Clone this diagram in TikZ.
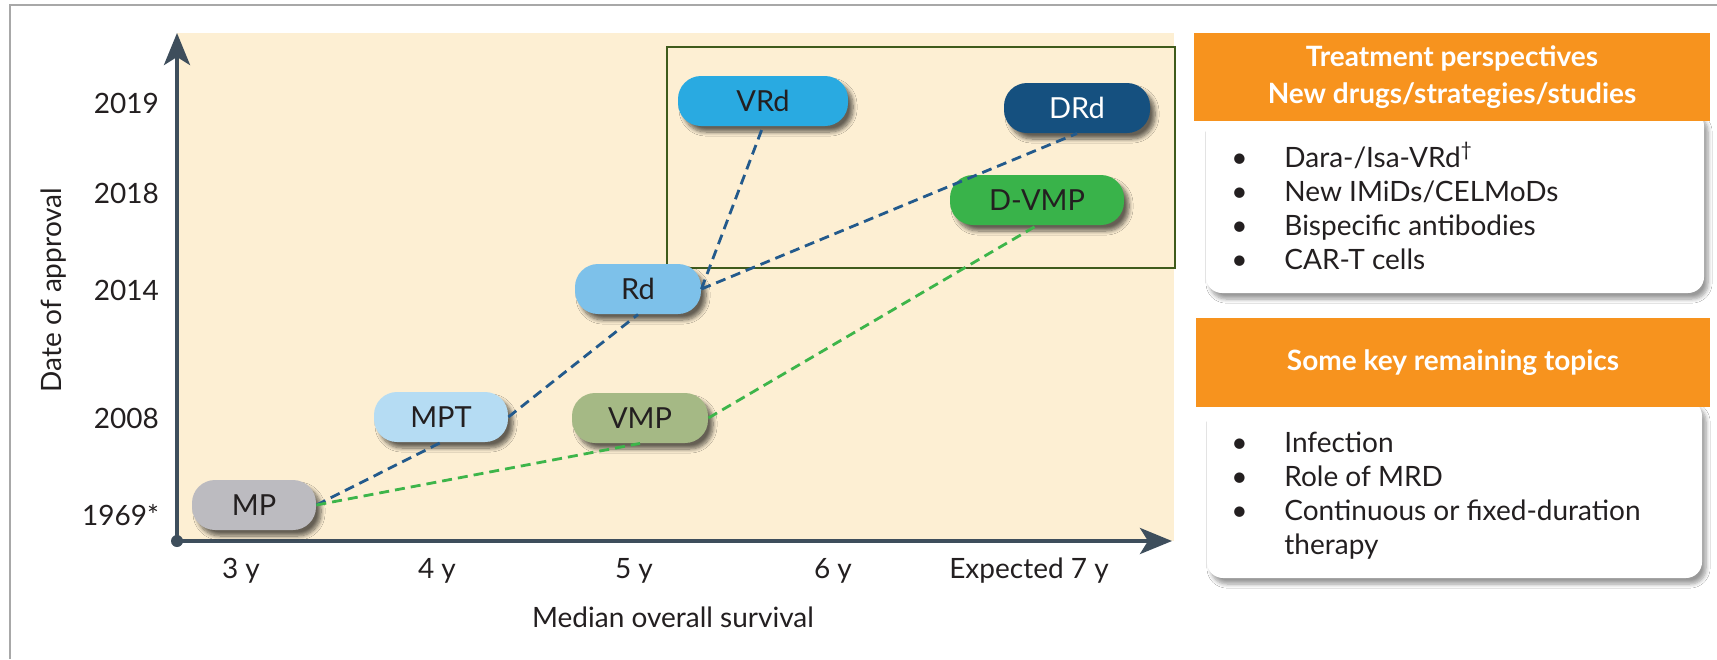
\documentclass[tikz,border=0pt]{standalone}
\usepackage{fontspec}
\setmainfont{Lato}
\usetikzlibrary{shapes.misc,arrows.meta,shadows.blur,positioning}

\definecolor{chartbg}{HTML}{FDEFD3}
\definecolor{axisgray}{HTML}{3E4E5C}
\definecolor{framegray}{HTML}{A8A8A8}
\definecolor{boxgreen}{HTML}{3F5B1C}
\definecolor{headorange}{HTML}{F7931E}
\definecolor{ink}{HTML}{231F20}
\definecolor{linkblue}{HTML}{235A8C}
\definecolor{linkgreen}{HTML}{3DB54A}
\definecolor{mpgray}{HTML}{BCBBC0}
\definecolor{mptblue}{HTML}{B5DCF3}
\definecolor{vmpgreen}{HTML}{A5B985}
\definecolor{rdblue}{HTML}{7DC1EA}
\definecolor{vrdblue}{HTML}{29AAE1}
\definecolor{drdblue}{HTML}{15507F}
\definecolor{dvmpgreen}{HTML}{39B34A}

\begin{document}
\begin{tikzpicture}[x=0.5pt,y=-0.5pt,
  every node/.style={align=center,text=ink,font=\fontsize{14}{17}\selectfont},
  drug/.style={rectangle,rounded corners=11.5pt,minimum height=25pt,inner xsep=6pt,
    font=\fontsize{14.5}{17}\selectfont,
    blur shadow={shadow xshift=2.5pt,shadow yshift=-3pt,shadow opacity=60,shadow blur steps=8}},
  bluelink/.style={draw=linkblue,line width=1.4pt,dash pattern=on 5pt off 3pt},
  greenlink/.style={draw=linkgreen,line width=1.4pt,dash pattern=on 5pt off 3pt},
  axis/.style={draw=axisgray,line width=2pt},
  header/.style={fill=headorange,text=white,font=\bfseries\fontsize{14}{18.5}\selectfont},
  panel/.style={fill=white,rounded corners=8pt,
    blur shadow={shadow xshift=2pt,shadow yshift=-3pt,shadow opacity=40,shadow blur steps=6}}]

\useasboundingbox (0,0) rectangle (1717,659);
\fill[white] (0,0) rectangle (1717,659);
\draw[framegray,line width=1.3pt] (10,659) -- (10,5) -- (1717,5);

% plot area
\fill[chartbg] (177,33) rectangle (1174,541);
\draw[boxgreen,line width=1pt] (667,47) rectangle (1175,268);

\coordinate (origin) at (177,541);
\coordinate (ytop) at (177,33);
\coordinate (xend) at (1172,541);
\draw[axis,-{Stealth[length=16pt,width=13pt,inset=4pt]}] (origin) -- (ytop);
\draw[axis,-{Stealth[length=16pt,width=13pt,inset=4pt]}] (origin) -- (xend);
\fill[axisgray] (origin) circle (3pt);

\node[anchor=base east] (y2019) at (166,113) {2019};
\node[anchor=base east] (y2018) at (166,203) {2018};
\node[anchor=base east] (y2014) at (166,300) {2014};
\node[anchor=base east] (y2008) at (166,428) {2008};
\node[anchor=base east] (y1969) at (166,525) {1969*};
\node[rotate=90] (ylabel) at (54,290) {Date of approval};

\node[anchor=base] (x3) at (241,578) {3 y};
\node[anchor=base] (x4) at (437,578) {4 y};
\node[anchor=base] (x5) at (634,578) {5 y};
\node[anchor=base] (x6) at (833,578) {6 y};
\node[anchor=base] (x7) at (1029,578) {Expected 7 y};
\node[anchor=base] (xlabel) at (673,627) {Median overall survival};

% regimens
\node[drug,fill=mpgray,minimum width=62pt] (MP) at (254,505) {MP};
\node[drug,fill=mptblue,minimum width=67pt] (MPT) at (441,417) {MPT};
\node[drug,fill=vmpgreen,minimum width=68pt] (VMP) at (640,418) {VMP};
\node[drug,fill=rdblue,minimum width=63pt] (Rd) at (638,289) {Rd};
\node[drug,fill=vrdblue,minimum width=85pt] (VRd) at (763,101) {VRd};
\node[drug,fill=drdblue,text=white,minimum width=73pt] (DRd) at (1077,108) {DRd};
\node[drug,fill=dvmpgreen,minimum width=87pt] (DVMP) at (1037,200) {D-VMP};

\draw[bluelink] (MP.east) -- (MPT.south);
\draw[bluelink] (MPT.east) -- (Rd.south);
\draw[bluelink] (Rd.east) -- (VRd.south);
\draw[bluelink] (Rd.east) -- (DRd.south);
\draw[greenlink] (MP.east) -- (VMP.south);
\draw[greenlink] (VMP.east) -- (DVMP.south);

% side panels
\fill[panel] (1206,110) rectangle (1704,293);
\node[header,minimum width=258pt,minimum height=44pt] (persphead) at (1452,77)
  {Treatment perspectives\\New drugs/strategies/studies};
\node[anchor=base west,inner sep=0pt] (persplist) at (1231,167)
  {\begin{tabular}[t]{@{}p{26.5pt}@{}l@{}}
   \textbullet & Dara-/Isa-VRd\textsuperscript{\textdagger}\\
   \textbullet & New IMiDs/CELMoDs\\
   \textbullet & Bispecific antibodies\\
   \textbullet & CAR-T cells
   \end{tabular}};

\fill[panel] (1207,400) rectangle (1702,578);
\node[header,minimum width=257pt,minimum height=44.5pt] (topichead) at (1453,362.5)
  {Some key remaining topics};
\node[anchor=base west,inner sep=0pt] (topiclist) at (1231,452)
  {\begin{tabular}[t]{@{}p{26.5pt}@{}l@{}}
   \textbullet & Infection\\
   \textbullet & Role of MRD\\
   \textbullet & Continuous or fixed-duration\\
   & therapy
   \end{tabular}};
\end{tikzpicture}
\end{document}
